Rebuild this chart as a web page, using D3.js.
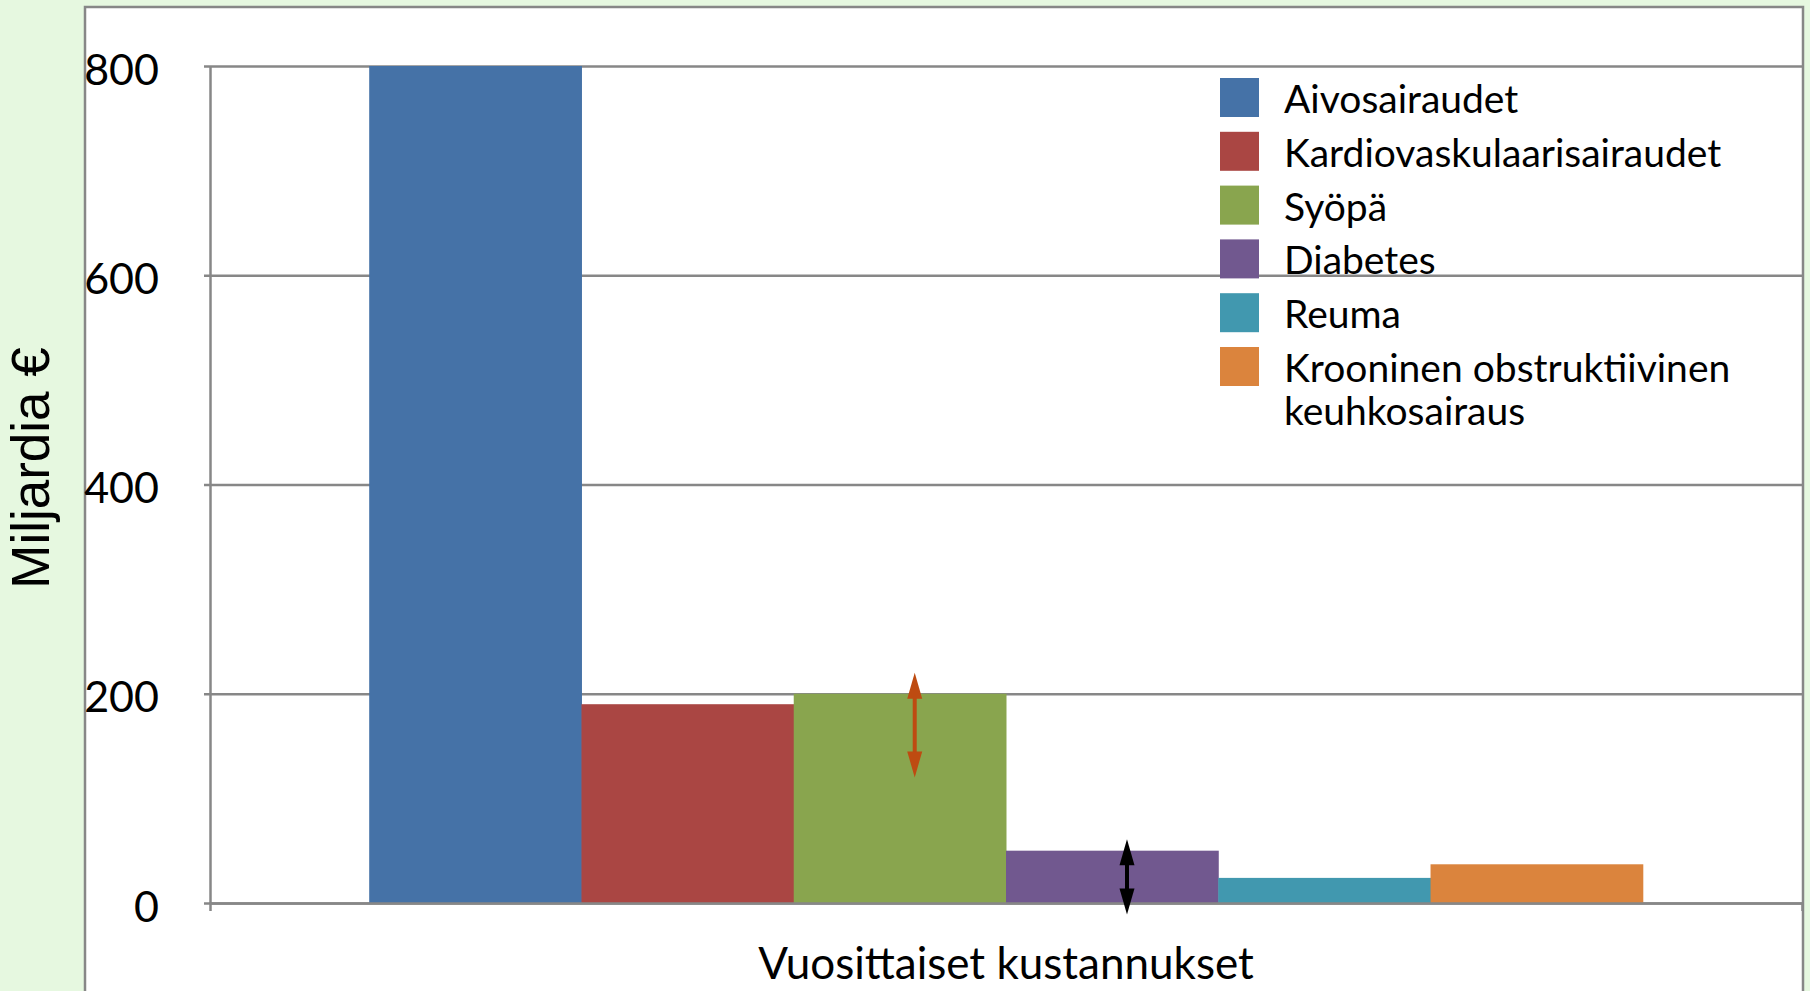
<!DOCTYPE html>
<html>
<head>
<meta charset="utf-8">
<script src="https://cdn.jsdelivr.net/npm/d3@7"></script>
<style>
  body { margin: 0; background: #e6f8e0; }
  svg { display: block; }
</style>
</head>
<body>
<div id="my_dataviz"></div>
<script>
// data (billions of euros per year)
var category = "Vuosittaiset kustannukset"
var diseases = ["Aivosairaudet", "Kardiovaskulaarisairaudet", "Syöpä", "Diabetes", "Reuma",
                "Krooninen obstruktiivinen keuhkosairaus"]
var costs = [800, 190, 200, 50, 24, 37]
var colors = ["#4572a7", "#aa4643", "#89a54e", "#71588f", "#4198af", "#db843d"]
var yTicks = [0, 200, 400, 600, 800]
// uncertainty arrows drawn on top of two of the bars: [bar index, low, high]
var arrows = [[2, 120, 220], [3, -11, 61]]
var arrowColors = ["#be4b11", "#000000"]

var W = 1810, H = 991
var margin = {top: 66, right: 8, bottom: 88, left: 210},
    width = W - margin.left - margin.right,
    height = H - margin.top - margin.bottom;

var calibri = "Lato, 'Open Sans', sans-serif"

var root = d3.select("#my_dataviz")
  .append("svg")
    .attr("width", W)
    .attr("height", H)

root.append("rect")
  .attr("width", W).attr("height", H)
  .attr("fill", "#e6f8e0")

// white chart frame
root.append("rect")
  .attr("x", 85).attr("y", 7)
  .attr("width", 1718).attr("height", 1010)
  .attr("fill", "#ffffff")
  .attr("stroke", "#878787")
  .attr("stroke-width", 2.5)

var svg = root.append("g")
  .attr("transform", "translate(" + margin.left + "," + margin.top + ")");

var y = d3.scaleLinear()
  .domain([0, 800])
  .range([height, 0])

var x0 = d3.scaleBand()
  .domain([category])
  .range([0, width])
  .paddingInner(0)
  .paddingOuter(0.125)

var x1 = d3.scaleBand()
  .domain(diseases)
  .range([0, x0.bandwidth()])

// gridlines
svg.append("g")
  .attr("class", "grid")
  .call(d3.axisLeft(y).tickValues(yTicks).tickSize(-width).tickFormat(""))
  .call(g => g.select(".domain").remove())
  .call(g => g.selectAll("line").attr("stroke", "#878787").attr("stroke-width", 2.5))

// bars
svg.append("g")
  .attr("transform", "translate(" + x0(category) + ",0)")
  .selectAll("rect")
  .data(costs)
  .enter()
  .append("rect")
    .attr("x", function(d, i) { return x1(diseases[i]) })
    .attr("y", function(d) { return y(d) })
    .attr("width", x1.bandwidth() + 0.5)
    .attr("height", function(d) { return y(0) - y(d) })
    .attr("fill", function(d, i) { return colors[i] })

// Y axis
svg.append("g")
  .call(d3.axisLeft(y).tickValues(yTicks).tickSize(6).tickSizeOuter(0).tickPadding(45))
  .call(g => g.select(".domain").attr("stroke", "#878787").attr("stroke-width", 2.5))
  .call(g => g.selectAll(".tick line").attr("stroke", "#878787").attr("stroke-width", 2.5))
  .call(g => g.selectAll("text")
    .attr("font-family", calibri)
    .attr("font-size", 43)
    .attr("dy", "0.42em")
    .attr("fill", "#000"))

// X axis (ticks sit between categories, as in the original)
svg.append("g")
  .attr("transform", "translate(0," + height + ")")
  .call(d3.axisBottom(x0).tickValues([]).tickSizeOuter(8))
  .call(g => g.select(".domain").attr("stroke", "#878787").attr("stroke-width", 2.5))

svg.append("text")
  .attr("x", width / 2)
  .attr("y", 979 - margin.top)
  .attr("text-anchor", "middle")
  .attr("font-family", calibri)
  .attr("font-size", 44)
  .text(category)

root.append("text")
  .attr("transform", "translate(49,468) rotate(-90)")
  .attr("text-anchor", "middle")
  .attr("font-family", "'Liberation Sans', Arial, sans-serif")
  .attr("font-size", 53)
  .text("Miljardia €")

// arrows
var arrowG = svg.append("g")
  .attr("transform", "translate(" + x0(category) + ",0)")

arrows.forEach(function(a, k) {
  var cx = x1(diseases[a[0]]) + x1.bandwidth() * 0.57
  var top = y(a[2]), bot = y(a[1]), head = 26, hw = 7.5
  var c = arrowColors[k]
  arrowG.append("line")
    .attr("x1", cx).attr("x2", cx)
    .attr("y1", top + head - 2).attr("y2", bot - head + 2)
    .attr("stroke", c).attr("stroke-width", 4)
  arrowG.append("path")
    .attr("d", "M" + cx + "," + top + "L" + (cx + hw) + "," + (top + head) + "L" + (cx - hw) + "," + (top + head) + "Z")
    .attr("fill", c)
  arrowG.append("path")
    .attr("d", "M" + cx + "," + bot + "L" + (cx + hw) + "," + (bot - head) + "L" + (cx - hw) + "," + (bot - head) + "Z")
    .attr("fill", c)
})

// legend
var legend = root.append("g")
  .attr("transform", "translate(1220,78)")

var rowY = 0
diseases.forEach(function(name, i) {
  var row = legend.append("g").attr("transform", "translate(0," + rowY + ")")
  row.append("rect")
    .attr("width", 39).attr("height", 39)
    .attr("fill", colors[i])
  var t = row.append("text")
    .attr("x", 64)
    .attr("y", 35)
    .attr("font-family", calibri)
    .attr("font-size", 39)
    .attr("fill", "#000")
  // wrap long names like the chart's legend does
  var words = name.split(" "), line = [], ts = t.append("tspan").attr("x", 64), lines = 1
  words.forEach(function(w) {
    line.push(w)
    ts.text(line.join(" "))
    if (ts.node().getComputedTextLength() > 500 && line.length > 1) {
      line.pop()
      ts.text(line.join(" "))
      line = [w]
      ts = t.append("tspan").attr("x", 64).attr("dy", 43).text(w)
      lines++
    }
  })
  rowY += 53.8 + (lines - 1) * 43
})
</script>
</body>
</html>
